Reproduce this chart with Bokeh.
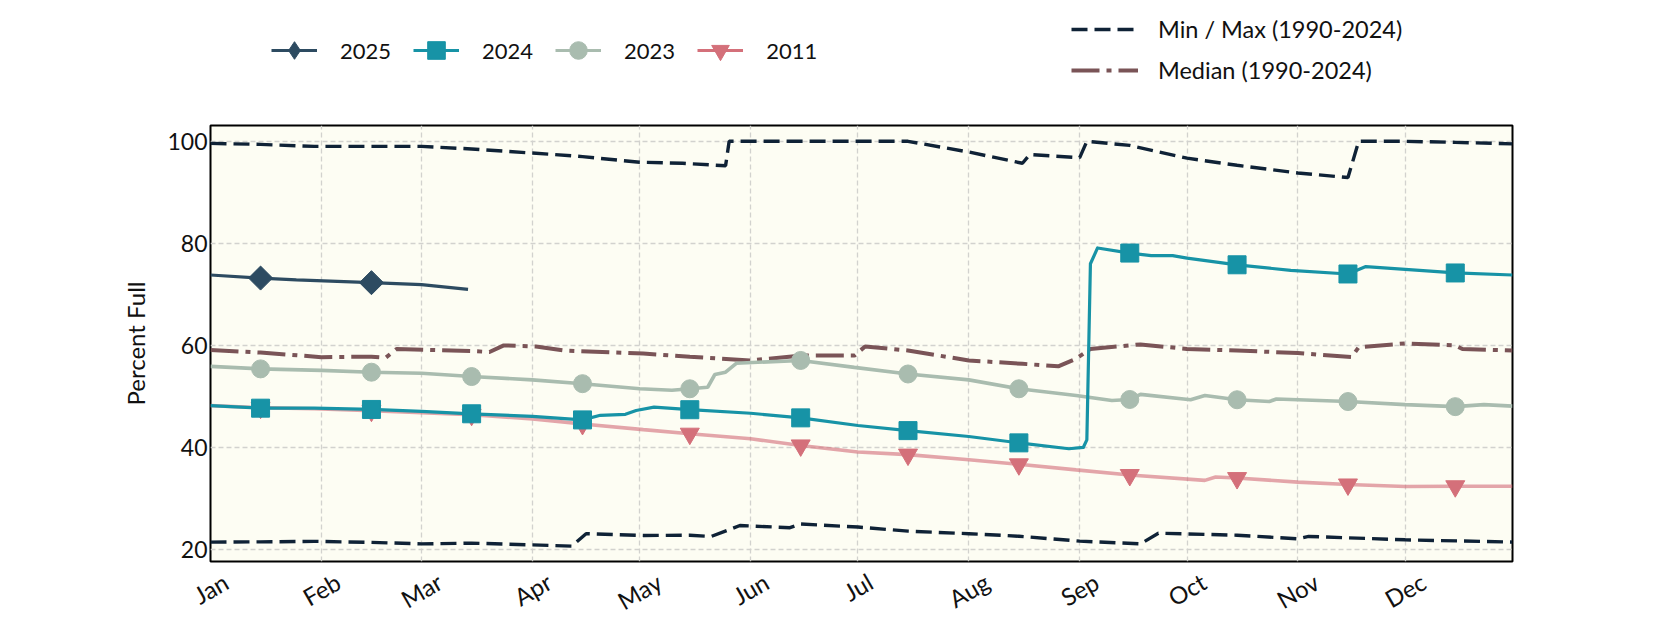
import math
from bokeh.plotting import figure
from bokeh.layouts import column
from bokeh.models import ColumnDataSource, FixedTicker, Legend, LegendItem, Range1d
from bokeh.embed import file_html
from bokeh.resources import INLINE

# ---------------- data ----------------
month_labels = ["Jan", "Feb", "Mar", "Apr", "May", "Jun",
                "Jul", "Aug", "Sep", "Oct", "Nov", "Dec"]
month_start_days = [0, 31, 59, 90, 120, 151, 181, 212, 243, 273, 304, 334]
marker_days = [14, 45, 73, 104, 134, 165, 195, 226, 257, 287, 318, 348]
y_ticks = [20, 40, 60, 80, 100]

max_days = [0, 14, 29, 45, 59, 73, 90, 104, 120, 132, 144, 145, 165, 195, 212,
            227, 229, 243, 245, 257, 273, 287, 304, 318, 321, 334, 348, 364]
max_vals = [99.6, 99.4, 99.0, 99.0, 99.0, 98.5, 97.7, 97.0, 95.9, 95.7, 95.2, 100.0,
            100.0, 100.0, 97.9, 95.7, 97.4, 96.8, 100.0, 99.2, 96.7, 95.3, 93.8,
            92.9, 100.0, 100.0, 99.8, 99.5]

min_days = [0, 14, 29, 45, 59, 73, 90, 101, 105, 121, 134, 140, 148, 162, 165,
            181, 195, 212, 226, 243, 260, 265, 287, 304, 307, 334, 364]
min_vals = [21.45, 21.5, 21.6, 21.4, 21.1, 21.25, 20.9, 20.67, 23.1, 22.76, 22.8,
            22.56, 24.7, 24.27, 25.0, 24.4, 23.6, 23.1, 22.6, 21.65, 21.1, 23.2,
            22.8, 22.1, 22.56, 21.9, 21.45]

median_days = [0, 14, 31, 45, 49, 52, 73, 78, 82, 91, 99, 121, 134, 151, 165, 180,
               183, 195, 212, 227, 237, 242, 246, 260, 273, 287, 304, 319, 321, 334,
               348, 350, 364]
median_vals = [59.1, 58.6, 57.7, 57.8, 57.6, 59.3, 58.9, 58.7, 60.0, 59.8, 59.0, 58.4,
               57.8, 57.05, 58.0, 58.0, 59.8, 59.0, 57.05, 56.4, 55.9, 57.4, 59.3,
               60.2, 59.3, 59.0, 58.5, 57.7, 59.65, 60.4, 60.0, 59.3, 59.0]

y2025_days = [0, 14, 24, 45, 59, 72]
y2025_vals = [73.8, 73.2, 72.85, 72.3, 71.9, 71.0]

y2024_days = [0, 14, 29, 45, 59, 73, 90, 104, 109, 116, 119, 124, 134, 151, 165,
              181, 195, 212, 226, 240, 244, 245, 246, 248, 257, 263, 269, 273, 287,
              302, 318, 323, 334, 348, 364]
y2024_vals = [48.2, 47.7, 47.7, 47.45, 47.06, 46.6, 46.1, 45.4, 46.3, 46.5, 47.25,
              47.9, 47.4, 46.7, 45.8, 44.3, 43.3, 42.15, 40.9, 39.75, 40.0, 41.5,
              76.0, 79.1, 78.1, 77.6, 77.6, 77.1, 75.8, 74.7, 74.0, 75.45, 74.9,
              74.2, 73.8]

y2023_days = [0, 14, 31, 45, 59, 73, 90, 104, 120, 129, 134, 139, 141, 144, 147,
              153, 165, 180, 195, 212, 226, 242, 252, 257, 260, 274, 278, 287, 296,
              298, 318, 334, 348, 356, 364]
y2023_vals = [55.9, 55.4, 55.1, 54.75, 54.55, 53.9, 53.25, 52.5, 51.5, 51.2, 51.5,
              51.8, 54.3, 54.75, 56.5, 56.7, 57.05, 55.7, 54.4, 53.25, 51.5, 50.2,
              49.2, 49.4, 50.4, 49.35, 50.2, 49.35, 49.0, 49.5, 49.0, 48.4, 48.0,
              48.4, 48.1]

y2011_days = [0, 14, 29, 45, 59, 73, 90, 104, 121, 134, 151, 165, 181, 195, 212,
              226, 242, 257, 278, 281, 287, 304, 318, 334, 348, 364]
y2011_vals = [48.2, 47.8, 47.6, 47.2, 46.8, 46.4, 45.6, 44.6, 43.5, 42.7, 41.7, 40.4,
              39.1, 38.6, 37.6, 36.7, 35.6, 34.6, 33.55, 34.2, 34.0, 33.2, 32.75,
              32.35, 32.4, 32.4]

FONT = "Lato"
C_MINMAX = "#0f2236"
C_MED = "#7a5457"
C_25 = "#2d4b61"
C_24 = "#1793a6"
C_23 = "#a9bcaf"
C_11 = "#d4707a"


def markers_of(days, vals):
    d = [x for x in days if x in marker_days]
    v = [vals[days.index(x)] for x in d]
    return d, v


# ---------------- main plot ----------------
p = figure(width=1680, height=507, x_range=Range1d(0, 364), y_range=Range1d(17.65, 103.1),
           output_backend="svg", toolbar_location=None,
           min_border_left=210, min_border_right=168, min_border_top=2,
           min_border_bottom=69)
p.background_fill_color = "#fdfdf3"
p.border_fill_color = "white"
p.outline_line_color = "black"
p.outline_line_width = 2

# x labels: right-anchored when rotated, so the label ticks are nudged so
# each rotated label is centred on its month start
label_shift = [4.3, 4.7, 5.1, 4.7, 5.5, 4.4, 3.5, 5.1, 4.7, 4.7, 5.2, 5.1]
label_pos = [d + s for d, s in zip(month_start_days, label_shift)]
p.xaxis.ticker = FixedTicker(ticks=label_pos)
p.xaxis.major_label_overrides = {t: m for t, m in zip(label_pos, month_labels)}
p.xaxis.major_label_orientation = math.pi / 6
p.xaxis.major_label_standoff = 18
p.yaxis.ticker = FixedTicker(ticks=y_ticks)
p.yaxis.major_label_standoff = 3
p.yaxis.axis_label = "Percent Full"
p.yaxis.axis_label_standoff = 14
for ax in (p.xaxis, p.yaxis):
    ax.axis_line_color = None
    ax.major_tick_line_color = None
    ax.minor_tick_line_color = None
    ax.major_tick_out = 0
    ax.major_tick_in = 0
    ax.minor_tick_out = 0
    ax.major_label_text_font = FONT
    ax.major_label_text_color = "#111111"
    ax.axis_label_text_font = FONT
    ax.axis_label_text_font_size = "24px"
    ax.axis_label_text_font_style = "normal"
    ax.axis_label_text_color = "#111111"
p.xaxis.major_label_text_font_size = "24px"
p.yaxis.major_label_text_font_size = "23px"

p.xgrid.ticker = FixedTicker(ticks=month_start_days)
p.ygrid.ticker = FixedTicker(ticks=y_ticks)
for g in (p.xgrid, p.ygrid):
    g.grid_line_color = "#d2d2ce"
    g.grid_line_dash = "5 3"
    g.grid_line_width = 1.3

# envelope lines
p.line(max_days, max_vals, line_color=C_MINMAX, line_width=3.4, line_dash="16 7")
p.line(min_days, min_vals, line_color=C_MINMAX, line_width=3.4, line_dash="16 7")
p.line(median_days, median_vals, line_color=C_MED, line_width=4, line_dash="28 7 5 7")

# 2011
p.line(y2011_days, y2011_vals, line_color=C_11, line_alpha=0.62, line_width=3.6)
mx, my = markers_of(y2011_days, y2011_vals)
p.scatter(mx, my, marker="inverted_triangle", size=19, color=C_11)
# 2023
p.line(y2023_days, y2023_vals, line_color=C_23, line_width=3.6)
mx, my = markers_of(y2023_days, y2023_vals)
p.scatter(mx, my, marker="circle", size=18, color=C_23)
# 2024
p.line(y2024_days, y2024_vals, line_color=C_24, line_width=3.2, line_join="round")
mx, my = markers_of(y2024_days, y2024_vals)
p.scatter(mx, my, marker="square", size=18, color=C_24)
# 2025
p.line(y2025_days, y2025_vals, line_color=C_25, line_width=3.2)
mx, my = markers_of(y2025_days, y2025_vals)
p.scatter(mx, my, marker="square", angle=math.pi / 4, size=17, color=C_25)

# ---------------- legend strip ----------------
lf = figure(width=1680, height=123, x_range=Range1d(0, 1), y_range=Range1d(0, 1),
            output_backend="svg", toolbar_location=None, min_border=0,
            x_axis_type=None, y_axis_type=None)
lf.grid.visible = False
lf.outline_line_color = None
lf.background_fill_color = "white"
lf.border_fill_color = "white"

# legend-only renderers: their single point lies far outside the strip's range
stub_x = [-100.0]
stub_y = [-100.0]


def stub(color, marker=None, size=16, dash="solid", width=3.0):
    src = ColumnDataSource(dict(x=stub_x, y=stub_y))
    rs = [lf.line("x", "y", source=src, line_color=color, line_width=width, line_dash=dash)]
    if marker:
        rs.append(lf.scatter("x", "y", source=src, marker=marker, size=size, color=color))
    return rs


leg1 = Legend(items=[
    LegendItem(label="2025", renderers=stub(C_25, "diamond", size=22)),
    LegendItem(label="2024", renderers=stub(C_24, "square", size=16)),
    LegendItem(label="2023", renderers=stub(C_23, "circle", size=16)),
    LegendItem(label="2011", renderers=stub(C_11, "inverted_triangle", size=17)),
], orientation="horizontal", location=(61, 51), glyph_width=46, glyph_height=44,
    label_height=44, label_standoff=23, spacing=22, padding=0, margin=0,
    border_line_color=None, background_fill_alpha=0, label_text_font=FONT,
    label_text_font_size="22px", label_text_color="#111111")
lf.add_layout(leg1)

leg2 = Legend(items=[
    LegendItem(label="Min / Max (1990-2024)", renderers=stub(C_MINMAX, dash="16 7", width=3.4)),
    LegendItem(label="Median (1990-2024)", renderers=stub(C_MED, dash="28 7 5 7", width=4)),
], orientation="vertical", location=(861, 39), glyph_width=67, glyph_height=26,
    label_height=26, label_standoff=20, spacing=13, padding=0, margin=0,
    border_line_color=None, background_fill_alpha=0, label_text_font=FONT,
    label_text_font_size="23.5px", label_text_color="#111111")
lf.add_layout(leg2)

open("out.html", "w").write(file_html(column(lf, p), INLINE))
